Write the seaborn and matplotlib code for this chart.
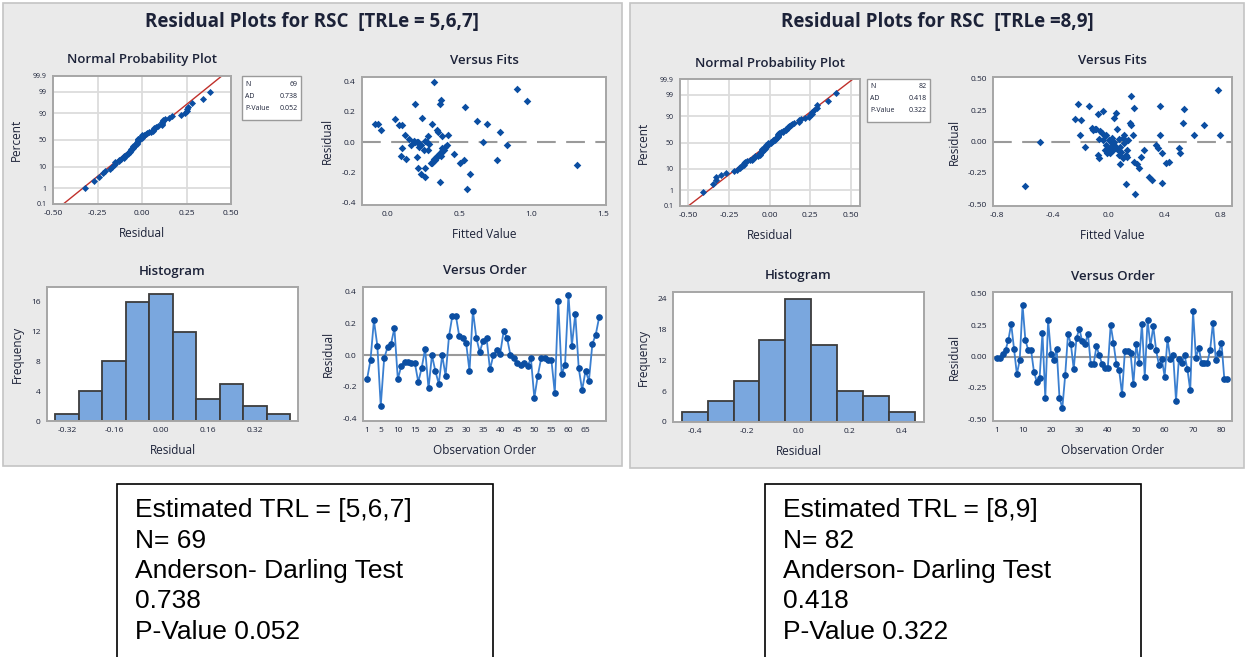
import numpy as np
import pandas as pd
import matplotlib
matplotlib.use("Agg")
import matplotlib.pyplot as plt
import seaborn as sns
from matplotlib.patches import Rectangle
from statistics import NormalDist

#%% DATA

# TRLe = 5,6,7  -> residuals in observation order
resid_567 = [-0.15, -0.03, 0.22, 0.06, -0.32, -0.02, 0.05, 0.07, 0.17, -0.15,
             -0.07, -0.04, -0.04, -0.05, -0.05, -0.17, -0.08, 0.04, -0.21, 0.00,
             -0.10, -0.18, 0.00, -0.13, 0.12, 0.25, 0.25, 0.12, 0.11, 0.08,
             -0.10, 0.28, 0.11, 0.02, 0.09, 0.11, -0.09, 0.00, 0.03, 0.01,
             0.15, 0.11, 0.00, -0.02, -0.05, -0.06, -0.05, -0.07, -0.02, -0.27,
             -0.13, -0.02, -0.02, -0.03, -0.03, -0.24, 0.34, -0.12, -0.06, 0.38,
             0.06, 0.26, -0.08, -0.22, -0.10, -0.16, 0.07, 0.13, 0.24]
fit_567 = [-0.09, -0.07, -0.05, 0.05, 0.08, 0.10, 0.12, 0.09, 0.10, 0.13,
           0.16, 0.18, 0.19, 0.20, 0.21, 0.23, 0.24, 0.21, 0.23, 0.26,
           0.26, 0.25, 0.26, 0.28, 0.29, 0.31, 0.31, 0.32, 0.33, 0.34,
           0.35, 0.36, 0.36, 0.37, 0.38, 0.36, 0.37, 0.39, 0.40, 0.41,
           0.42, 0.38, 0.34, 0.28, 0.46, 0.50, 0.53, 0.54, 0.55, 0.57,
           0.62, 0.66, 0.69, 0.76, 0.78, 0.83, 0.90, 0.97, 1.32, 0.15,
           0.19, 0.22, 0.30, 0.32, 0.35, 0.37, 0.38, 0.27, 0.20]
fitres_567 = [0.12, 0.12, 0.08, 0.15, 0.11, 0.11, 0.05, -0.09, -0.04, -0.11,
              -0.02, 0.01, 0.25, -0.10, 0.00, -0.02, 0.16, -0.17, -0.21, -0.17,
              -0.23, -0.05, 0.01, 0.04, -0.01, 0.12, -0.14, 0.40, -0.12, 0.08,
              0.07, -0.26, 0.25, 0.28, 0.04, -0.07, -0.09, -0.05, -0.03, -0.02,
              0.05, -0.06, -0.09, -0.05, -0.08, -0.14, -0.12, 0.23, -0.31, -0.21,
              0.14, 0.00, 0.12, -0.12, 0.07, -0.02, 0.35, 0.27, -0.15, 0.02,
              0.00, -0.03, -0.14, -0.11, -0.09, -0.07, -0.04, 0.00, 0.00]
hist_mid_567 = [-0.32, -0.24, -0.16, -0.08, 0.00, 0.08, 0.16, 0.24, 0.32, 0.40]
hist_cnt_567 = [1, 4, 8, 16, 17, 12, 3, 5, 2, 1]

# TRLe = 8,9
resid_89 = [-0.01, -0.01, 0.02, 0.05, 0.13, 0.26, 0.06, -0.14, -0.03, 0.41,
            0.13, 0.05, 0.05, -0.12, -0.20, -0.17, 0.19, -0.33, 0.29, 0.02,
            -0.03, 0.06, -0.33, -0.41, -0.15, 0.18, 0.10, -0.10, 0.15, 0.22,
            0.12, 0.10, 0.18, -0.06, -0.06, 0.08, 0.01, -0.06, -0.09, -0.09,
            0.25, 0.11, -0.06, -0.11, -0.30, 0.04, 0.04, 0.03, -0.22, 0.10,
            -0.05, 0.26, -0.16, 0.29, 0.08, 0.24, 0.05, -0.07, -0.02, -0.16,
            0.14, -0.02, 0.01, -0.35, -0.02, -0.05, 0.01, -0.10, -0.27, 0.36,
            -0.01, 0.07, -0.05, -0.05, -0.05, 0.05, 0.27, -0.03, 0.03, 0.11,
            -0.18, -0.18]
fit_89 = [-0.60, -0.49, -0.24, -0.22, -0.21, -0.20, -0.17, -0.14, -0.12, -0.10,
          -0.09, -0.08, -0.08, -0.07, -0.06, -0.04, -0.04, -0.03, -0.02, -0.01,
          0.00, 0.01, 0.02, 0.03, 0.04, 0.05, 0.05, 0.06, 0.07, 0.08,
          0.08, 0.10, 0.11, 0.12, 0.12, 0.13, 0.14, 0.15, 0.16, 0.16,
          0.17, 0.18, 0.18, 0.19, 0.20, 0.22, 0.23, 0.25, 0.29, 0.31,
          0.34, 0.35, 0.37, 0.37, 0.38, 0.38, 0.41, 0.43, 0.50, 0.51,
          0.53, 0.54, 0.61, 0.68, 0.78, 0.80, -0.05, -0.02, 0.00, 0.02,
          0.03, 0.06, 0.09, 0.10, 0.11, 0.13, -0.11, -0.07, 0.04, 0.07,
          0.01, -0.03]
fitres_89 = [-0.35, 0.00, 0.18, 0.30, 0.05, 0.17, -0.04, 0.28, 0.11, 0.10,
             0.10, -0.11, 0.22, -0.13, 0.08, 0.24, 0.01, 0.04, 0.05, -0.09,
             0.01, -0.05, -0.01, -0.07, 0.19, 0.23, -0.04, 0.10, -0.11, -0.18,
             -0.04, 0.03, -0.01, -0.11, -0.34, -0.12, 0.01, 0.15, 0.36, 0.13,
             0.05, 0.27, -0.16, -0.42, -0.18, -0.21, -0.12, -0.07, -0.28, -0.31,
             -0.03, -0.05, 0.28, 0.05, -0.09, -0.33, -0.17, -0.16, -0.05, -0.09,
             0.15, 0.26, 0.05, 0.13, 0.41, 0.05, 0.07, -0.03, -0.06, 0.03,
             -0.02, -0.06, -0.08, -0.13, 0.05, -0.07, 0.09, 0.02, 0.00, 0.02,
             -0.09, -0.07]
hist_mid_89 = [-0.4, -0.3, -0.2, -0.1, 0.0, 0.1, 0.2, 0.3, 0.4]
hist_cnt_89 = [2, 4, 8, 16, 24, 15, 6, 5, 2]

stats_567 = ['69', '0.738', '0.052']
stats_89 = ['82', '0.418', '0.322']

box_567 = ['Estimated TRL = [5,6,7]', 'N= 69', 'Anderson- Darling Test', '0.738', 'P-Value 0.052']
box_89 = ['Estimated TRL = [8,9]', 'N= 82', 'Anderson- Darling Test', '0.418', 'P-Value 0.322']

#%% STYLE

sns.set_style("white")
plt.rcParams['font.family'] = ['Open Sans', 'DejaVu Sans']

W, H = 1246, 657
DOT = '#0b4ea2'
LINE = '#3a7fd0'
TXT = '#1c2238'
PANEL = '#eaeaea'


def rect(l, t, r, b):
    return [l / W, 1 - b / H, (r - l) / W, (b - t) / H]


def style_ax(ax):
    for s in ax.spines.values():
        s.set_color('#a6a6a6')
        s.set_linewidth(1.4)
    ax.tick_params(axis='both', labelsize=6, colors=TXT, length=3,
                   width=0.8, pad=1.5, direction='out')
    ax.tick_params(axis='both', color='#808080')
    ax.set_facecolor('white')


def labels(ax, title, xlab, ylab, ylpad=5):
    ax.set_title(title, fontsize=9.5, color=TXT, pad=9, fontweight='semibold')
    ax.set_xlabel(xlab, fontsize=8.5, color=TXT, labelpad=7, fontweight='medium')
    ax.set_ylabel(ylab, fontsize=8.5, color=TXT, labelpad=ylpad, fontweight='medium')


fig = plt.figure(figsize=(W / 100, H / 100), dpi=100)
fig.patch.set_facecolor('white')

nd = NormalDist()


def panel(cfg, resid, fits, fitres, hmid, hcnt, hw, stats, title):
    # gray Minitab panel (behind the axes)
    l, t, r, b = cfg['panel']
    fig.patches.append(Rectangle((l / W, 1 - b / H), (r - l) / W, (b - t) / H,
                                 transform=fig.transFigure, facecolor=PANEL,
                                 edgecolor='#c4c4c4', lw=1.2, zorder=-5))
    fig.text(cfg['title_x'] / W, 1 - 22 / H, title, ha='center', va='center',
             fontsize=13.5, color=TXT, fontweight='bold')

    # normal probability plot
    ax = fig.add_axes(rect(*cfg['npp']))
    style_ax(ax)
    r_sorted = np.sort(np.array(resid))
    n = len(r_sorted)
    pp = [(i + 1 - 0.3) / (n + 0.4) for i in range(n)]
    zz = [nd.inv_cdf(p) for p in pp]
    mu, sd = r_sorted.mean(), r_sorted.std(ddof=1)
    lo, hi = nd.inv_cdf(0.001), nd.inv_cdf(0.999)
    xl = cfg['npp_xlim']
    for xt in [-0.5, -0.25, 0.0, 0.25, 0.5]:
        ax.axvline(xt, color='#dcdcdc', lw=1.3, zorder=0)
    for p in [0.01, 0.1, 0.5, 0.9, 0.99]:
        ax.axhline(nd.inv_cdf(p), color='#dcdcdc', lw=1.3, zorder=0)
    xs = np.array(xl)
    ax.plot(xs, (xs - mu) / sd, color='#c0302b', lw=1.0, zorder=2)
    sns.scatterplot(x=r_sorted, y=zz, ax=ax, marker='D', s=13, color=DOT,
                    edgecolor=DOT, linewidth=0, zorder=3)
    ax.set_xlim(*xl)
    ax.set_ylim(lo, hi)
    ax.set_xticks([-0.5, -0.25, 0.0, 0.25, 0.5])
    ax.set_xticklabels(['-0.50', '-0.25', '0.00', '0.25', '0.50'])
    ax.set_yticks([nd.inv_cdf(p) for p in [0.001, 0.01, 0.1, 0.5, 0.9, 0.99, 0.999]])
    ax.set_yticklabels(['0.1', '1', '10', '50', '90', '99', '99.9'], fontsize=5)
    labels(ax, 'Normal Probability Plot', 'Residual', 'Percent', ylpad=7)

    # little stats box
    bl, bt, br, bb = cfg['box']
    fig.patches.append(Rectangle((bl / W, 1 - bb / H), (br - bl) / W, (bb - bt) / H,
                                 transform=fig.transFigure, facecolor='white',
                                 edgecolor='#9a9a9a', lw=1.0, zorder=1))
    for k, (lab, val) in enumerate(zip(['N', 'AD', 'P-Value'], stats)):
        yy = 1 - (bt + 8 + k * 12) / H
        fig.text((bl + 3) / W, yy, lab, fontsize=5, color=TXT, va='center')
        fig.text((br - 3) / W, yy, val, fontsize=5, color=TXT, va='center', ha='right')

    # versus fits
    ax = fig.add_axes(rect(*cfg['fits']))
    style_ax(ax)
    ax.axhline(0, color='#9a9a9a', lw=1.5, dashes=(9, 5), zorder=1)
    sns.scatterplot(x=fits, y=fitres, ax=ax, marker='D', s=15, color=DOT,
                    edgecolor=DOT, linewidth=0, zorder=3)
    ax.set_xlim(*cfg['fits_xlim'])
    ax.set_ylim(*cfg['res_ylim'])
    ax.set_xticks(cfg['fits_xticks'])
    ax.set_xticklabels(cfg['fits_xlabels'])
    ax.set_yticks(cfg['res_yticks'])
    ax.set_yticklabels(cfg['res_ylabels'])
    labels(ax, 'Versus Fits', 'Fitted Value', 'Residual')

    # histogram
    ax = fig.add_axes(rect(*cfg['hist']))
    style_ax(ax)
    hdf = pd.DataFrame({'mid': hmid, 'cnt': hcnt})
    edges = [m - hw / 2 for m in hmid] + [hmid[-1] + hw / 2]
    sns.histplot(data=hdf, x='mid', weights='cnt', bins=edges, ax=ax,
                 color='#7aa7de', edgecolor='#3c3c3c', linewidth=1.3, alpha=1)
    ax.set_xlim(*cfg['hist_xlim'])
    ax.set_ylim(0, cfg['hist_ytop'])
    ax.set_xticks(cfg['hist_xticks'])
    ax.set_xticklabels(cfg['hist_xlabels'])
    ax.set_yticks(cfg['hist_yticks'])
    labels(ax, 'Histogram', 'Residual', 'Frequency')

    # versus order
    ax = fig.add_axes(rect(*cfg['order']))
    style_ax(ax)
    ax.axhline(0, color='#9a9a9a', lw=1.5, zorder=1)
    df = pd.DataFrame({'obs': np.arange(1, len(resid) + 1), 'res': resid})
    sns.lineplot(data=df, x='obs', y='res', ax=ax, color=LINE, lw=1.3,
                 marker='o', markersize=4, markerfacecolor=DOT,
                 markeredgecolor=DOT, zorder=3)
    ax.set_xlim(*cfg['order_xlim'])
    ax.set_ylim(*cfg['res_ylim'])
    ax.set_xticks(cfg['order_xticks'])
    ax.set_yticks(cfg['res_yticks'])
    ax.set_yticklabels(cfg['res_ylabels'])
    labels(ax, 'Versus Order', 'Observation Order', 'Residual')


cfg_567 = dict(panel=(3, 3, 622, 466), title_x=312,
               npp=(53, 76, 231, 204), npp_xlim=(-0.5, 0.5), box=(242, 76, 301, 120),
               fits=(362, 77, 606, 205), fits_xlim=(-0.18, 1.52),
               fits_xticks=[0, 0.5, 1.0, 1.5], fits_xlabels=['0.0', '0.5', '1.0', '1.5'],
               res_ylim=(-0.415, 0.43), res_yticks=[-0.4, -0.2, 0, 0.2, 0.4],
               res_ylabels=['-0.4', '-0.2', '0.0', '0.2', '0.4'],
               hist=(47, 287, 298, 421), hist_xlim=(-0.388, 0.467), hist_ytop=18.0,
               hist_xticks=[-0.32, -0.16, 0, 0.16, 0.32],
               hist_xlabels=['-0.32', '-0.16', '0.00', '0.16', '0.32'],
               hist_yticks=[0, 4, 8, 12, 16],
               order=(363, 287, 606, 421), order_xlim=(-0.2, 71),
               order_xticks=[1, 5, 10, 15, 20, 25, 30, 35, 40, 45, 50, 55, 60, 65])

cfg_89 = dict(panel=(630, 3, 1244, 468), title_x=937,
              npp=(680, 79, 860, 206), npp_xlim=(-0.551, 0.555), box=(867, 79, 930, 122),
              fits=(993, 77, 1232, 206), fits_xlim=(-0.83, 0.883),
              fits_xticks=[-0.8, -0.4, 0, 0.4, 0.8],
              fits_xlabels=['-0.8', '-0.4', '0.0', '0.4', '0.8'],
              res_ylim=(-0.513, 0.513), res_yticks=[-0.5, -0.25, 0, 0.25, 0.5],
              res_ylabels=['-0.50', '-0.25', '0.00', '0.25', '0.50'],
              hist=(673, 292, 924, 422), hist_xlim=(-0.484, 0.486), hist_ytop=25.3,
              hist_xticks=[-0.4, -0.2, 0, 0.2, 0.4],
              hist_xlabels=['-0.4', '-0.2', '0.0', '0.2', '0.4'],
              hist_yticks=[0, 6, 12, 18, 24],
              order=(993, 292, 1232, 421), order_xlim=(-0.4, 83.7),
              order_xticks=[1, 10, 20, 30, 40, 50, 60, 70, 80])

panel(cfg_567, resid_567, fit_567, fitres_567, hist_mid_567, hist_cnt_567, 0.08,
      stats_567, 'Residual Plots for RSC  [TRLe = 5,6,7]')
panel(cfg_89, resid_89, fit_89, fitres_89, hist_mid_89, hist_cnt_89, 0.1,
      stats_89, 'Residual Plots for RSC  [TRLe =8,9]')

#%% TEXT BOXES BELOW

for (bl, lines) in [(117, box_567), (765, box_89)]:
    br = bl + 376
    fig.patches.append(Rectangle((bl / W, -0.05), (br - bl) / W, 1 - 484 / H + 0.05,
                                 transform=fig.transFigure, facecolor='white',
                                 edgecolor='black', lw=1.2, zorder=1))
    for k, s in enumerate(lines):
        fig.text((bl + 18) / W, 1 - (510 + k * 30.5) / H, s, fontsize=19,
                 va='center', color='black', family=['Liberation Sans', 'DejaVu Sans'])

plt.savefig('out.png', dpi=100)
